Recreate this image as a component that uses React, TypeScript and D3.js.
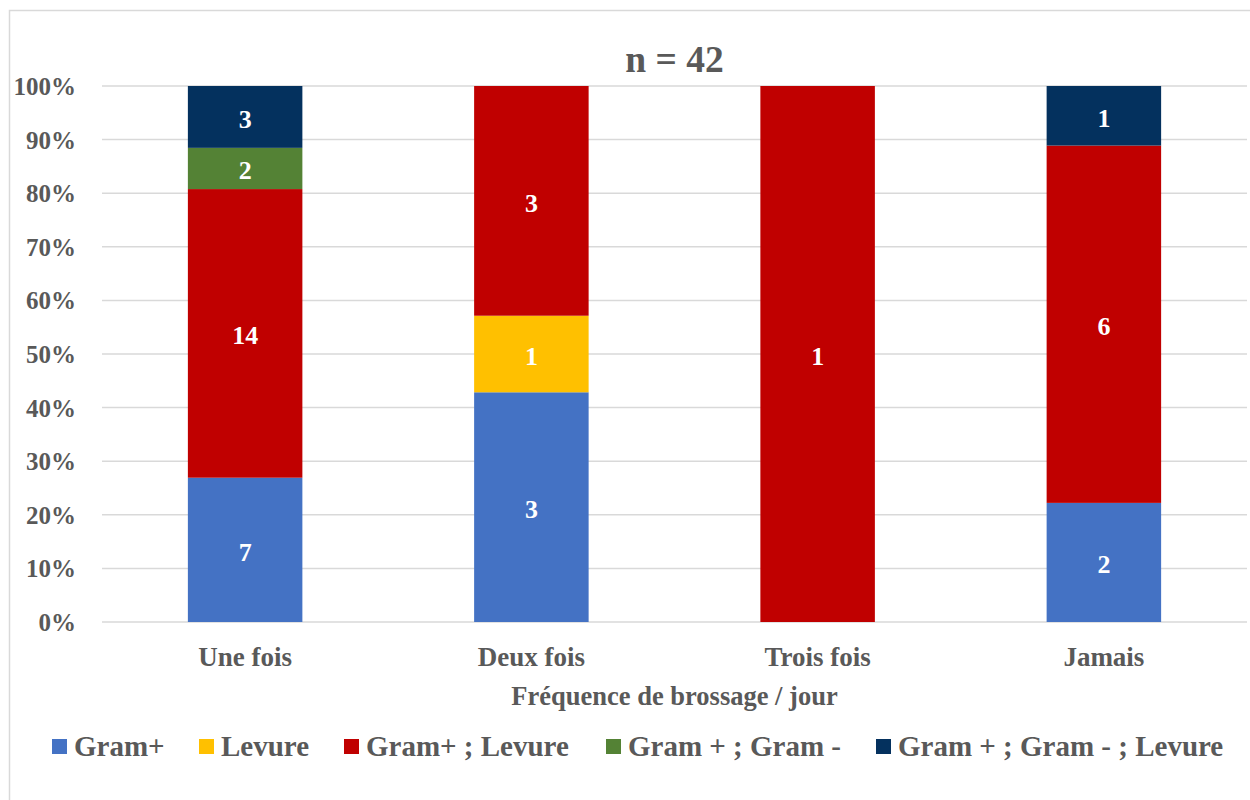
import React from "react";
import * as d3 from "d3";

const categories = ["Une fois", "Deux fois", "Trois fois", "Jamais"];
const seriesNames = ["Gram+", "Levure", "Gram+ ; Levure", "Gram + ; Gram -", "Gram + ; Gram - ; Levure"];
const gramPlus = [7, 3, 0, 2];
const levure = [0, 1, 0, 0];
const gramPlusLevure = [14, 3, 1, 6];
const gramPlusGramMinus = [2, 0, 0, 0];
const gramPlusGramMinusLevure = [3, 0, 0, 1];
const yTicks = [0, 0.1, 0.2, 0.3, 0.4, 0.5, 0.6, 0.7, 0.8, 0.9, 1.0];
const title = "n = 42";
const xTitle = "Fréquence de brossage / jour";

const colors = ["#4472C4", "#FFC000", "#C00000", "#548235", "#04315E"];
const legendX = [52, 199, 344, 606, 876];

const FONT = "'Liberation Serif', 'Times New Roman', serif";
const GREY = "#595959";

export default function App() {
  const W = 1250, H = 800;
  const left = 102, right = 1247, top = 86, bottom = 622;
  const seriesValues = [gramPlus, levure, gramPlusLevure, gramPlusGramMinus, gramPlusGramMinusLevure];

  const rows = categories.map((c, i) => {
    const r: any = { cat: c };
    seriesNames.forEach((s, k) => (r[s] = seriesValues[k][i]));
    return r;
  });
  const stack = d3.stack<any>().keys(seriesNames).offset(d3.stackOffsetExpand);
  const stacked = stack(rows);

  const x = d3.scaleBand<string>().domain(categories).range([left, right]).paddingInner(0.6).paddingOuter(0.3);
  const y = d3.scaleLinear().domain([0, 1]).range([bottom, top]);
  const fmt = d3.format(".0%");

  return (
    <svg width={W} height={H} style={{ display: "block", position: "absolute", left: 0, top: 0 }}>
      <rect x={0} y={0} width={W} height={H} fill="#fff" />
      <rect x={9.5} y={10.5} width={W} height={H} fill="none" stroke="#d9d9d9" strokeWidth={1.5} />
      <text x={(left + right) / 2} y={72} textAnchor="middle" fontFamily={FONT} fontWeight="bold" fontSize={37.5} fill={GREY}>
        {title}
      </text>
      {yTicks.map((t) => (
        <g key={t}>
          <line x1={left} x2={right} y1={y(t)} y2={y(t)} stroke="#d9d9d9" strokeWidth={1.5} />
          <text x={76} y={y(t) + 9} textAnchor="end" fontFamily={FONT} fontWeight="bold" fontSize={25} fill={GREY}>
            {fmt(t)}
          </text>
        </g>
      ))}
      {stacked.map((layer, k) => (
        <g key={layer.key}>
          {layer.map((d, i) => {
            const v = seriesValues[k][i];
            if (!v) return null;
            const y0 = y(d[0]);
            const y1 = y(d[1]);
            const bx = x(categories[i])!;
            return (
              <g key={i}>
                <rect x={bx} y={y1} width={x.bandwidth()} height={y0 - y1} fill={colors[k]} />
                <text x={bx + x.bandwidth() / 2} y={(y0 + y1) / 2 + 11} textAnchor="middle" fontFamily={FONT} fontWeight="bold" fontSize={26} fill="#fff">
                  {v}
                </text>
              </g>
            );
          })}
        </g>
      ))}
      {categories.map((c) => (
        <text key={c} x={x(c)! + x.bandwidth() / 2} y={666} textAnchor="middle" fontFamily={FONT} fontWeight="bold" fontSize={27} fill={GREY}>
          {c}
        </text>
      ))}
      <text x={(left + right) / 2} y={705} textAnchor="middle" fontFamily={FONT} fontWeight="bold" fontSize={26.5} fill={GREY}>
        {xTitle}
      </text>
      {seriesNames.map((s, k) => (
        <g key={s}>
          <rect x={legendX[k]} y={739} width={15} height={15} fill={colors[k]} />
          <text x={legendX[k] + 22} y={756} fontFamily={FONT} fontWeight="bold" fontSize={29} fill={GREY}>
            {s}
          </text>
        </g>
      ))}
    </svg>
  );
}
